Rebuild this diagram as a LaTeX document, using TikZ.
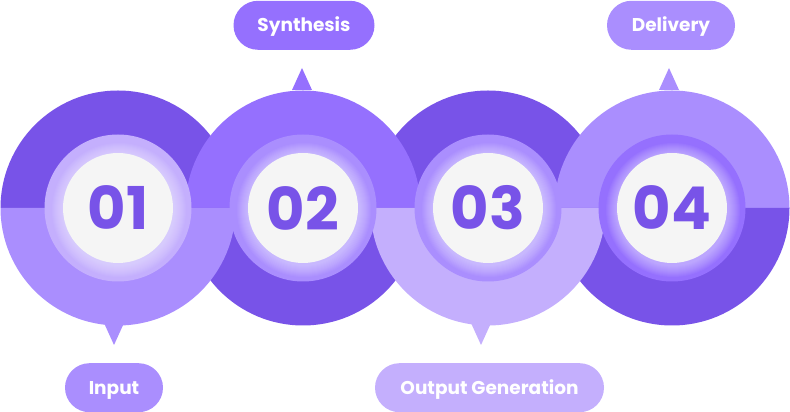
\documentclass[tikz,border=0pt]{standalone}
\usepackage{fontspec}
\setmainfont{Poppins}
\usepackage{tikz}
\usepackage{xcolor}
\usetikzlibrary{positioning}
\definecolor{pdark}{HTML}{7853E8}
\definecolor{pmid}{HTML}{9570FE}
\definecolor{plight}{HTML}{AA8EFE}
\definecolor{ppale}{HTML}{C4AFFD}
\definecolor{pwhite}{HTML}{F5F5F5}

\begin{document}
\begin{tikzpicture}[
  x=1pt, y=1pt,
  pill/.style={rectangle, rounded corners=24.5pt, minimum height=49pt,
              inner sep=0pt, text height=13pt, text depth=0pt,
              text=white, font=\fontsize{18.5}{20}\selectfont\bfseries},
  numdisc/.style={circle, fill=pwhite, minimum size=110pt, inner sep=0pt,
              text=pdark, font=\fontsize{59}{60}\selectfont\bfseries},
]
\useasboundingbox (0,0) rectangle (790,412);

% Centres and tail tips
\coordinate (c1) at (118,204);
\coordinate (c2) at (303,204);
\coordinate (c3) at (488,204);
\coordinate (c4) at (672,204);
\coordinate (t1) at (114,67);
\coordinate (t2) at (302,344);
\coordinate (t3) at (481,67);
\coordinate (t4) at (669,344);

% Upper halves: 1 and 3 below, 2 and 4 on top
\fill[pdark] (c1) ++(117.5,0) arc[start angle=0, end angle=180, radius=117.5] -- cycle;
\fill[pdark] (c3) ++(117.5,0) arc[start angle=0, end angle=180, radius=117.5] -- cycle;
\fill[pmid] (c2) ++(117.5,0) arc[start angle=0, end angle=180, radius=117.5] -- cycle;
\fill[plight] (c4) ++(117.5,0) arc[start angle=0, end angle=180, radius=117.5] -- cycle;

% Lower halves: 2 and 4 below, 1 and 3 on top
\fill[pdark] (c2) ++(-117.5,0) arc[start angle=180, end angle=360, radius=117.5] -- cycle;
\fill[pdark] (c4) ++(-117.5,0) arc[start angle=180, end angle=360, radius=117.5] -- cycle;
\fill[plight] (c1) ++(-117.5,0) arc[start angle=180, end angle=360, radius=117.5] -- cycle;
\fill[ppale] (c3) ++(-117.5,0) arc[start angle=180, end angle=360, radius=117.5] -- cycle;

% Tails
\fill[plight] (t1) -- ++(-10,22) -- ++(20,0) -- cycle;
\fill[pmid] (t2) -- ++(-10,-22) -- ++(20,0) -- cycle;
\fill[ppale] (t3) -- ++(-10,22) -- ++(20,0) -- cycle;
\fill[plight] (t4) -- ++(-10,-22) -- ++(20,0) -- cycle;

% Inner rings with soft glow
\fill[ppale] (c1) circle[radius=73.5];
\fill[plight] (c2) circle[radius=73.5];
\fill[plight] (c3) circle[radius=73.5];
\fill[pmid] (c4) circle[radius=73.5];
\foreach \c in {c1,c2,c3,c4}
  \foreach \r in {56,57,...,67}
    \fill[white, opacity=0.045] (\c) ++(1,-2) circle[radius=\r];

% Numbers
\node[numdisc] (n1) at (c1) {01};
\node[numdisc] (n2) at (c2) {02};
\node[numdisc] (n3) at (c3) {03};
\node[numdisc] (n4) at (c4) {04};

% Labels
\node[pill, fill=plight, minimum width=98pt, below=18pt of t1] (input) {Input};
\node[pill, fill=pmid, minimum width=141pt, above=18pt of t2, xshift=2pt] (synth) {Synthesis};
\node[pill, fill=ppale, minimum width=229pt, below=18pt of t3, xshift=8.5pt] (output) {Output Generation};
\node[pill, fill=plight, minimum width=128pt, above=18pt of t4, xshift=2pt] (deliv) {Delivery};

\end{tikzpicture}
\end{document}
